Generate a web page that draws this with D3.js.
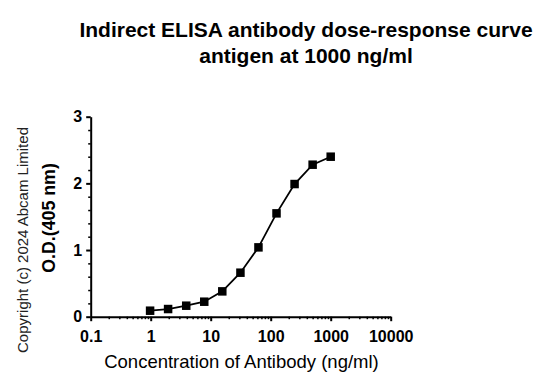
<!DOCTYPE html>
<html><head><meta charset="utf-8">
<script src="https://cdn.jsdelivr.net/npm/d3@7"></script>
<style>body{margin:0;background:#fff}svg{display:block;font-family:"Liberation Sans",Arial,sans-serif}</style>
</head><body><svg id="c" width="549" height="388"></svg>
<script>
const titleLines = ["Indirect ELISA antibody dose-response curve", "antigen at 1000 ng/ml"];
const xLabel = "Concentration of Antibody (ng/ml)";
const yLabel = "O.D.(405 nm)";
const copyright = "Copyright (c) 2024 Abcam Limited";
const concentration = [0.977, 1.95, 3.91, 7.81, 15.6, 31.3, 62.5, 125, 250, 500, 1000];
const od = [0.09, 0.115, 0.165, 0.225, 0.38, 0.66, 1.04, 1.55, 1.99, 2.28, 2.40];
const xTicks = [0.1, 1, 10, 100, 1000, 10000];
const xTickLabels = ["0.1", "1", "10", "100", "1000", "10000"];
const yTicks = [0, 1, 2, 3];

const svg = d3.select("#c");
const x = d3.scaleLog().domain([0.1, 10000]).range([90.7, 390.7]);
const y = d3.scaleLinear().domain([0, 3]).range([316.7, 116.7]);

// title
svg.append("g").selectAll("text").data(titleLines).join("text")
  .attr("x", 306).attr("y", (d, i) => 36.5 + i * 26)
  .attr("text-anchor", "middle").attr("font-size", 21).attr("font-weight", "bold")
  .attr("fill", "#000").text(d => d);

// x minor ticks
const xMinor = [];
for (let e = -1; e < 4; e++) for (let m = 2; m <= 9; m++) xMinor.push(m * Math.pow(10, e));
svg.append("g").attr("transform", "translate(0,316.7)")
  .call(d3.axisBottom(x).tickValues(xMinor).tickSize(2.5).tickFormat(""))
  .call(g => g.select(".domain").remove())
  .call(g => g.selectAll("line").attr("stroke", "#000").attr("stroke-width", 1.5));

// y minor ticks
const yMinor = d3.range(0, 3.001, 0.2).filter(v => Math.abs(v - Math.round(v)) > 1e-6);
svg.append("g").attr("transform", "translate(90.7,0)")
  .call(d3.axisLeft(y).tickValues(yMinor).tickSize(2.5).tickFormat(""))
  .call(g => g.select(".domain").remove())
  .call(g => g.selectAll("line").attr("stroke", "#000").attr("stroke-width", 1.5));

// x axis
svg.append("g").attr("transform", "translate(0,316.7)")
  .call(d3.axisBottom(x).tickValues(xTicks).tickSize(4.5).tickSizeOuter(0).tickPadding(9)
    .tickFormat((d, i) => xTickLabels[i]))
  .call(g => g.select(".domain").attr("stroke", "#000").attr("stroke-width", 2))
  .call(g => g.selectAll("line").attr("stroke", "#000").attr("stroke-width", 2))
  .call(g => g.selectAll("text").attr("font-size", 16).attr("font-weight", "bold")
    .attr("fill", "#000").attr("font-family", "Liberation Sans, Arial, sans-serif"));

// y axis
svg.append("g").attr("transform", "translate(90.7,0)")
  .call(d3.axisLeft(y).tickValues(yTicks).tickSize(4.5).tickSizeOuter(0).tickPadding(4)
    .tickFormat(d3.format("d")))
  .call(g => g.select(".domain").attr("stroke", "#000").attr("stroke-width", 2))
  .call(g => g.selectAll("line").attr("stroke", "#000").attr("stroke-width", 2))
  .call(g => g.selectAll("text").attr("font-size", 16).attr("font-weight", "bold")
    .attr("fill", "#000").attr("font-family", "Liberation Sans, Arial, sans-serif"));

// line
const pts = concentration.map((c, i) => [c, od[i]]);
svg.append("path").datum(pts)
  .attr("fill", "none").attr("stroke", "#000").attr("stroke-width", 1.8)
  .attr("d", d3.line().x(d => x(d[0])).y(d => y(d[1])));

// markers
const s = 8.5;
svg.append("g").selectAll("rect").data(pts).join("rect")
  .attr("x", d => x(d[0]) - s / 2).attr("y", d => y(d[1]) - s / 2)
  .attr("width", s).attr("height", s).attr("fill", "#000");

// axis labels
svg.append("text").attr("x", 241.5).attr("y", 368)
  .attr("text-anchor", "middle").attr("font-size", 18.5).attr("fill", "#000").text(xLabel);
svg.append("text").attr("transform", "translate(55,218) rotate(-90)")
  .attr("text-anchor", "middle").attr("font-size", 17.8).attr("font-weight", "bold")
  .attr("fill", "#000").text(yLabel);
svg.append("text").attr("transform", "translate(28,240) rotate(-90)")
  .attr("text-anchor", "middle").attr("font-size", 15).attr("fill", "#222").text(copyright);
</script></body></html>
